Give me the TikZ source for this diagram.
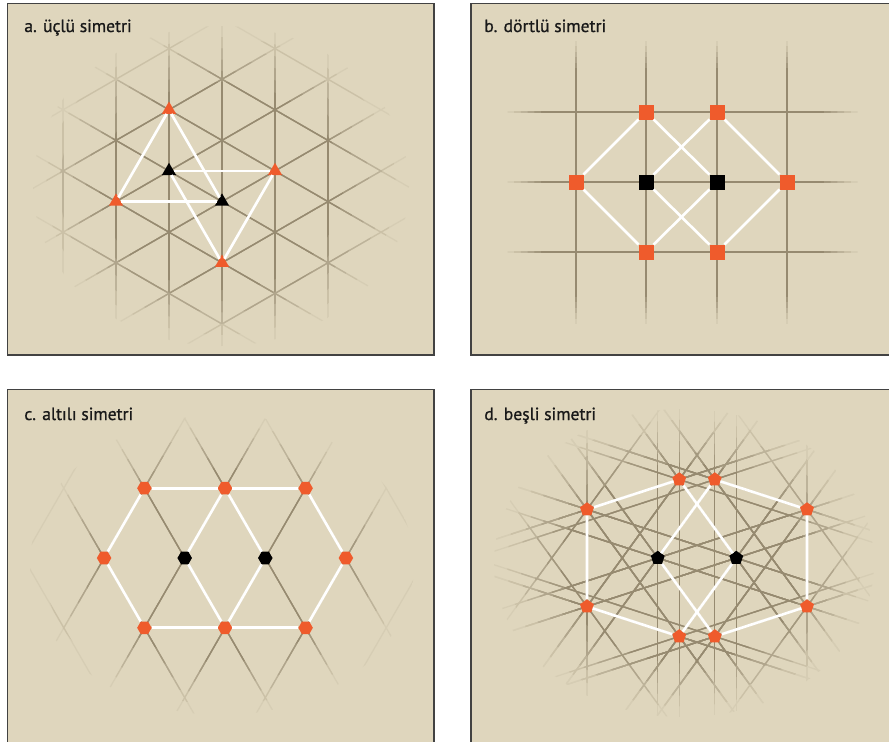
\documentclass[tikz,border=0pt]{standalone}
\usepackage{fontspec}
\setmainfont{PT Sans}
\newfontfamily\titlefont{PT Sans}[RawFeature={embolden=0.9}]
\usetikzlibrary{shapes.geometric,calc}
\definecolor{panelbg}{RGB}{223,214,189}
\definecolor{gridbrown}{RGB}{150,138,112}
\definecolor{markorange}{RGB}{239,91,44}
\definecolor{framegray}{RGB}{66,66,66}

% lines drawn again and again inside shrinking clips, darker each time
\newcommand\fadedgrid[2]{%
  \foreach \s/\fadelevel in {1/12,0.93/28,0.86/46,0.79/64,0.72/82,0.65/100}{%
    \begin{scope}\clip #1; #2\end{scope}}}

\begin{document}
\begin{tikzpicture}[x=0.02cm,y=-0.02cm,
  panel/.style={fill=panelbg,draw=framegray,line width=0.8pt},
  paneltitle/.style={anchor=base west,inner sep=0pt,text=black!90,font=\titlefont\fontsize{10}{12}\selectfont},
  gridline/.style={draw=gridbrown!\fadelevel!panelbg,line width=0.7pt},
  link/.style={draw=white,line width=1.5pt},
  mark/.style={inner sep=0pt,outer sep=0pt,fill=#1},
  tri/.style={mark=#1,regular polygon,regular polygon sides=3,minimum size=0.33cm},
  sq/.style={mark=#1,rectangle,minimum size=0.3cm},
  hexa/.style={mark=#1,regular polygon,regular polygon sides=6,minimum size=0.29cm},
  penta/.style={mark=#1,regular polygon,regular polygon sides=5,minimum size=0.29cm}]
\clip (0,0) rectangle (889,741);
\fill[white] (0,0) rectangle (889,741);

% panels
\draw[panel] (7.5,3.5) rectangle (434,355);
\draw[panel] (471,3.5) rectangle (900,355);
\draw[panel] (7.5,389.5) rectangle (434,760);
\draw[panel] (471,389.5) rectangle (900,760);
\node[paneltitle] (ta) at (24,32) {a. üçlü simetri};
\node[paneltitle] (tb) at (484,32) {b. dörtlü simetri};
\node[paneltitle] (tc) at (24,420) {c. altılı simetri};
\node[paneltitle] (td) at (484,420) {d. beşli simetri};

% a: triangular lattice
\fadedgrid{(221,186) ellipse ({188*\s} and {160*\s})}{%
  \foreach \k in {-2,...,3}
    \draw[gridline] ({169+53*\k},0) -- ({169+53*\k},370);
  \foreach \m in {-5,...,5} {
    \draw[gridline] (20,{171+61.2*\m-0.5774*149}) -- (430,{171+61.2*\m+0.5774*261});
    \draw[gridline] (20,{171+61.2*\m+0.5774*149}) -- (430,{171+61.2*\m-0.5774*261});
  }}
\node[tri=markorange] (aT) at (169,109.8) {};
\node[tri=markorange] (aL) at (116,201.6) {};
\node[tri=markorange] (aR) at (275,171) {};
\node[tri=markorange] (aB) at (222,262.8) {};
\node[tri=black] (aK1) at (169,171) {};
\node[tri=black] (aK2) at (222,201.6) {};
\draw[link] (aT) -- (aL);
\draw[link] (aT) -- (aK2);
\draw[link] (aL) -- (aK2);
\draw[link] (aK1) -- (aR);
\draw[link] (aK1) -- (aB);
\draw[link] (aR) -- (aB);

% b: square lattice
\fadedgrid{(480,{182.5-141*(0.45+0.55*\s)}) rectangle (880,{182.5+141*(0.45+0.55*\s)})}{%
  \foreach \x in {576,646,717,787}
    \draw[gridline] (\x,20) -- (\x,345);}
\fadedgrid{({682.5-175*(0.45+0.55*\s)},60) rectangle ({682.5+175*(0.45+0.55*\s)},300)}{%
  \foreach \y in {112,182,252}
    \draw[gridline] (490,\y) -- (875,\y);}
\node[sq=markorange] (bT1) at (646,112) {};
\node[sq=markorange] (bT2) at (717,112) {};
\node[sq=markorange] (bL) at (576,182) {};
\node[sq=markorange] (bR) at (787,182) {};
\node[sq=markorange] (bB1) at (646,252) {};
\node[sq=markorange] (bB2) at (717,252) {};
\node[sq=black] (bK1) at (646,182) {};
\node[sq=black] (bK2) at (717,182) {};
\draw[link] (bL) -- (bT1) -- (bK2) -- (bB1) -- (bL);
\draw[link] (bK1) -- (bT2) -- (bR) -- (bB2) -- (bK1);

% c: hexagonal lattice
\fadedgrid{(222,565) ellipse ({192*\s} and {150*\s})}{%
  \foreach \x in {23.5,104.1,184.7,265.3,345.9,426.5} {
    \draw[gridline] ({\x+91.2},400) -- ({\x-93.5},720);
    \draw[gridline] ({\x-91.2},400) -- ({\x+93.5},720);
  }}
\node[hexa=markorange] (cT1) at (144.4,488.2) {};
\node[hexa=markorange] (cT2) at (225,488.2) {};
\node[hexa=markorange] (cT3) at (305.6,488.2) {};
\node[hexa=markorange] (cL) at (104.1,558) {};
\node[hexa=markorange] (cR) at (345.9,558) {};
\node[hexa=markorange] (cB1) at (144.4,627.8) {};
\node[hexa=markorange] (cB2) at (225,627.8) {};
\node[hexa=markorange] (cB3) at (305.6,627.8) {};
\node[hexa=black] (cK1) at (184.7,558) {};
\node[hexa=black] (cK2) at (265.3,558) {};
\draw[link] (cT1) -- (cT2) -- (cT3);
\draw[link] (cB1) -- (cB2) -- (cB3);
\draw[link] (cT1) -- (cL) -- (cB1);
\draw[link] (cT3) -- (cR) -- (cB3);
\draw[link] (cT2) -- (cK1) -- (cB2) -- (cK2) -- (cT2);

% d: pentagrid
\coordinate (d-k1) at (657.75,558);
\coordinate (d-k2) at (736.25,558);
\coordinate (d-t1) at (679.23,479.53);
\coordinate (d-t2) at (714.77,479.53);
\coordinate (d-u1) at (586.98,509.5);
\coordinate (d-u2) at (807.02,509.5);
\coordinate (d-l1) at (586.98,606.5);
\coordinate (d-l2) at (807.02,606.5);
\coordinate (d-d1) at (679.23,636.47);
\coordinate (d-d2) at (714.77,636.47);
\fadedgrid{(684,563) ellipse ({190*\s} and {154*\s})}{%
  \foreach \p in {d-k1,d-k2,d-t1,d-t2,d-u1,d-u2,d-l1,d-l2,d-d1,d-d2}
    \foreach \a in {90,18,162,54,126}
      \draw[gridline] ($(\p)+(\a:260)$) -- ($(\p)+({\a+180}:260)$);}
\node[penta=markorange] (dT1) at (d-t1) {};
\node[penta=markorange] (dT2) at (d-t2) {};
\node[penta=markorange] (dU1) at (d-u1) {};
\node[penta=markorange] (dU2) at (d-u2) {};
\node[penta=markorange] (dL1) at (d-l1) {};
\node[penta=markorange] (dL2) at (d-l2) {};
\node[penta=markorange] (dD1) at (d-d1) {};
\node[penta=markorange] (dD2) at (d-d2) {};
\node[penta=black] (dK1) at (d-k1) {};
\node[penta=black] (dK2) at (d-k2) {};
\draw[link] (dT1) -- (dU1) -- (dL1) -- (dD1);
\draw[link] (dT2) -- (dU2) -- (dL2) -- (dD2);
\draw[link] (dT1) -- (dK2) -- (dD1);
\draw[link] (dT2) -- (dK1) -- (dD2);
\end{tikzpicture}
\end{document}
